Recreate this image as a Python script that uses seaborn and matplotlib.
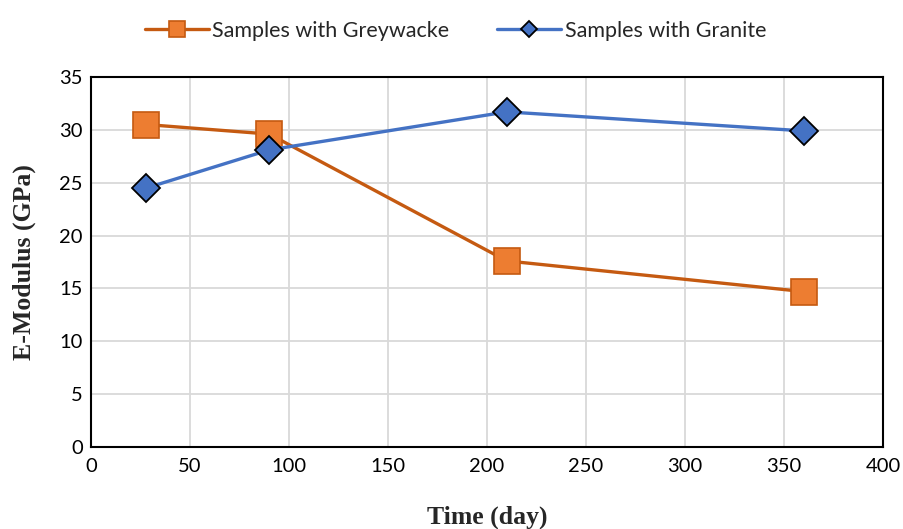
import matplotlib
matplotlib.use("Agg")
import matplotlib.pyplot as plt
import seaborn as sns
import pandas as pd

# Ageing days and measured E-modulus values
days = [28, 90, 210, 360]
greywacke = [30.5, 29.6, 17.6, 14.7]
granite = [24.5, 28.1, 31.7, 29.9]
series_names = ["Samples with Greywacke", "Samples with Granite"]

x_ticks = [0, 50, 100, 150, 200, 250, 300, 350, 400]
y_ticks = [0, 5, 10, 15, 20, 25, 30, 35]

sns.set_theme(style="white")
plt.rcParams["font.family"] = ["Lato", "DejaVu Sans"]

fig = plt.figure(figsize=(9.04, 5.29), dpi=100)
ax = fig.add_axes([0.1007, 0.155, 0.876, 0.6995])

df_grey = pd.DataFrame({"day": days, "E": greywacke})
df_gran = pd.DataFrame({"day": days, "E": granite})

sns.lineplot(data=df_grey, x="day", y="E", ax=ax, color="#C55A11", linewidth=2.4,
             marker="s", markersize=18.5, markerfacecolor="#ED7D31",
             markeredgecolor="#C55A11", markeredgewidth=1.2,
             label=series_names[0], zorder=3)
sns.lineplot(data=df_gran, x="day", y="E", ax=ax, color="#4472C4", linewidth=2.4,
             marker="D", markersize=14, markerfacecolor="#4472C4",
             markeredgecolor="black", markeredgewidth=1.3,
             label=series_names[1], zorder=4)

ax.set_xlim(0, 400)
ax.set_ylim(0, 35)
ax.set_xticks(x_ticks)
ax.set_yticks(y_ticks)
ax.tick_params(axis="both", labelsize=14.5, length=0, colors="black")
ax.tick_params(axis="x", pad=8)
ax.tick_params(axis="y", pad=6)
ax.grid(True, color="#D9D9D9", linewidth=1.3)
ax.set_axisbelow(True)
for s in ax.spines.values():
    s.set_color("black")
    s.set_linewidth(1.5)

ax.set_xlabel("Time (day)", fontsize=18.5, fontweight="bold",
              family="Liberation Serif", labelpad=22)
ax.set_ylabel("E-Modulus (GPa)", fontsize=18.5, fontweight="bold",
              family="Liberation Serif", labelpad=17)

ax.legend(loc="lower center", bbox_to_anchor=(0.46, 1.045), ncol=2, frameon=False,
          fontsize=15.5, markerscale=0.6, handlelength=3.0, columnspacing=2.2,
          handletextpad=0.15)

fig.savefig("out.png", dpi=100)
